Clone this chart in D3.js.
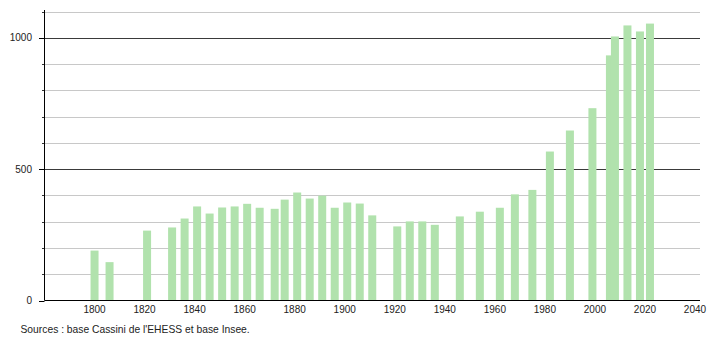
<!DOCTYPE html>
<html>
<head>
<meta charset="utf-8">
<script src="https://cdn.jsdelivr.net/npm/d3@7"></script>
<style>
  html, body { margin: 0; padding: 0; background: #fff; }
  svg { display: block; font-family: "Liberation Sans", Arial, sans-serif; }
</style>
</head>
<body>
<svg id="chart" width="710" height="340"></svg>
<script>
// Census years and population
const years = [1800, 1806, 1821, 1831, 1836, 1841, 1846, 1851, 1856, 1861, 1866, 1872, 1876, 1881, 1886, 1891, 1896, 1901, 1906, 1911, 1921, 1926, 1931, 1936, 1946, 1954, 1962, 1968, 1975, 1982, 1990, 1999, 2006, 2008, 2013, 2018, 2022];
const population = [190, 146, 266, 278, 312, 358, 331, 354, 358, 368, 353, 349, 384, 411, 388, 399, 353, 373, 369, 324, 282, 301, 301, 288, 320, 338, 353, 404, 421, 567, 647, 732, 933, 1005, 1047, 1024, 1054];
const xTicks = [1800, 1820, 1840, 1860, 1880, 1900, 1920, 1940, 1960, 1980, 2000, 2020, 2040];
const yLabelTicks = [0, 500, 1000];
const yGridTicks = [100, 200, 300, 400, 600, 700, 800, 900, 1100];
const sourceText = "Sources : base Cassini de l'EHESS et base Insee.";

const svg = d3.select("#chart");
const x = d3.scaleLinear().domain([1780, 2042]).range([44.5, 700]);
const y = d3.scaleLinear().domain([0, 1100]).range([300.5, 11.5]);

// light grid lines
svg.append("g").selectAll("line").data(yGridTicks).join("line")
  .attr("x1", 44.5).attr("x2", 700)
  .attr("y1", d => Math.round(y(d)) + 0.5).attr("y2", d => Math.round(y(d)) + 0.5)
  .attr("stroke", "#c8c8c8").attr("stroke-width", 1);
// minor ticks
svg.append("g").selectAll("line").data(yGridTicks).join("line")
  .attr("x1", 42).attr("x2", 44.5)
  .attr("y1", d => Math.round(y(d)) + 0.5).attr("y2", d => Math.round(y(d)) + 0.5)
  .attr("stroke", "#333");
// major lines
svg.append("g").selectAll("line").data(yLabelTicks.filter(d => d > 0)).join("line")
  .attr("x1", 44.5).attr("x2", 700)
  .attr("y1", d => Math.round(y(d)) + 0.5).attr("y2", d => Math.round(y(d)) + 0.5)
  .attr("stroke", "#3a3a3a").attr("stroke-width", 1);

// bars
const bw = 8;
svg.append("g").selectAll("rect").data(years).join("rect")
  .attr("x", d => x(d) - bw / 2)
  .attr("width", bw)
  .attr("y", (d, i) => y(population[i]))
  .attr("height", (d, i) => y(0) - y(population[i]))
  .attr("fill", "#b1e2ad");

// axes
svg.append("line").attr("x1", 44.5).attr("x2", 44.5).attr("y1", 10).attr("y2", 300.5)
  .attr("stroke", "#000");
svg.append("line").attr("x1", 44.5).attr("x2", 700).attr("y1", 300.5).attr("y2", 300.5)
  .attr("stroke", "#000");
svg.append("g").selectAll("line").data(yLabelTicks).join("line")
  .attr("x1", 39).attr("x2", 44.5)
  .attr("y1", d => Math.round(y(d)) + 0.5).attr("y2", d => Math.round(y(d)) + 0.5)
  .attr("stroke", "#000");

// y labels
svg.append("g").selectAll("text").data(yLabelTicks).join("text")
  .attr("x", 32).attr("y", d => y(d) + 3.5)
  .attr("text-anchor", "end").attr("font-size", 10).attr("fill", "#222")
  .text(d => d);

// x labels
svg.append("g").selectAll("text").data(xTicks).join("text")
  .attr("x", d => x(d)).attr("y", 312.5)
  .attr("text-anchor", "middle").attr("font-size", 10).attr("fill", "#222")
  .text(d => d);

svg.append("text").attr("x", 20.5).attr("y", 333)
  .attr("font-size", 10.3).attr("fill", "#222").text(sourceText);
</script>
</body>
</html>
